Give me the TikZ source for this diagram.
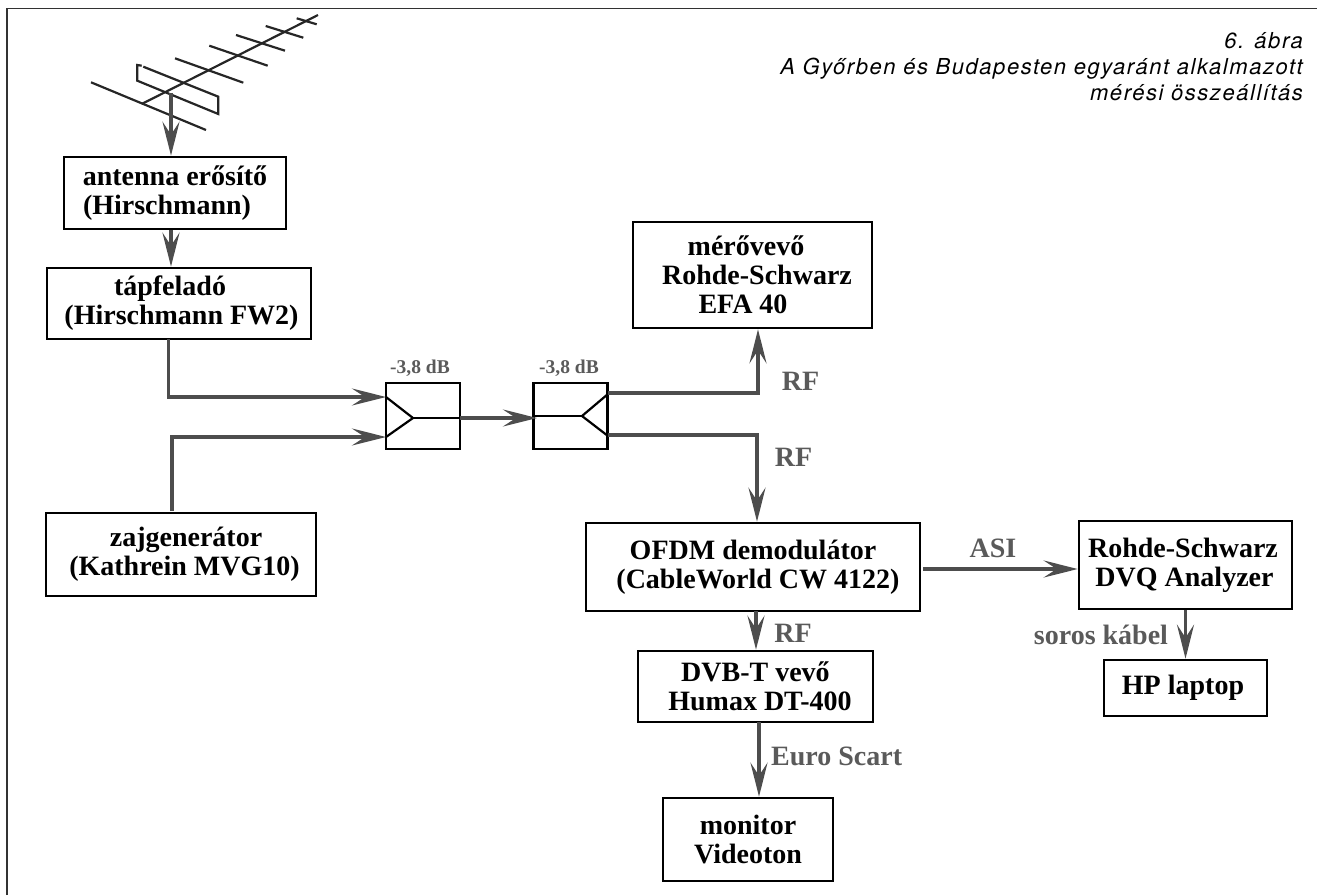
\documentclass[tikz,border=0pt]{standalone}
\usepackage{fontspec}
\setmainfont{Liberation Serif}
\newfontfamily\capfont[LetterSpace=7]{TeX Gyre Heros}
\usepackage{tikz}
\usetikzlibrary{arrows.meta,calc}
\definecolor{wiregrey}{RGB}{77,77,77}
\definecolor{labelgrey}{RGB}{90,90,90}
\definecolor{framegrey}{RGB}{50,50,50}
\tikzset{
  unit/.style={draw=black,line width=2.6pt,fill=white,align=center,inner sep=0pt,
    font=\fontsize{28}{29}\selectfont\bfseries},
  splitbox/.style={draw=black,line width=2.6pt,inner sep=0pt,
    minimum width=74pt,minimum height=66pt},
  flow/.style={-{Stealth[length=34pt,width=17pt,inset=13pt]},line width=3.8pt,draw=wiregrey},
  inner/.style={line width=2.2pt,draw=black},
  aerial/.style={line width=2.2pt,draw=black!85},
  tag/.style={font=\fontsize{28}{29}\selectfont\bfseries,text=labelgrey,inner sep=0pt},
  losstag/.style={font=\fontsize{19.5}{20}\selectfont\bfseries,text=labelgrey,inner sep=0pt}
}
\begin{document}
\begin{tikzpicture}[x=1pt,y=-1pt]
  \useasboundingbox (0,0) rectangle (1317,895);
  \draw[line width=1.6pt,draw=framegrey] (7,895) -- (7,8.5) -- (1317,8.5);

  % aerial
  \coordinate (feed) at (171,93);
  \draw[aerial] (141.7,104) -- (318,15);
  \draw[aerial] (91,82.3) -- (206,130);
  \draw[aerial] (143.3,66.7) -- (218.3,96.7) -- (218.3,114) -- (137.3,80.7) -- (137.3,65) -- (141.7,65.7);
  \foreach \ax/\ay/\bx/\by in {175/58.3/243.3/82.7,209.3/45.7/267.7/65.7,236/35/285/50.7,265.7/26/303.3/37.7,296.7/18.3/316.7/24.3}
    \draw[aerial] (\ax,\ay) -- (\bx,\by);

  % units
  \node[unit,minimum width=222pt,minimum height=72pt] (amp) at (175,193) {antenna erősítő\\(Hirschmann)\hspace*{16pt}};
  \node[unit,minimum width=264pt,minimum height=71pt] (feeder) at (179,303.5) {tápfeladó\hspace*{18pt}\\\hspace*{5pt}(Hirschmann FW2)};
  \node[unit,minimum width=270pt,minimum height=83pt] (noise) at (181,554.5) {\hspace*{10pt}zajgenerátor\\\hspace*{7pt}(Kathrein MVG10)};
  \node[unit,minimum width=239pt,minimum height=106pt] (meter) at (752.5,275) {mérővevő\hspace*{13pt}\\\hspace*{9pt}Rohde-Schwarz\\EFA 40\hspace*{19pt}};
  \node[unit,minimum width=334pt,minimum height=88pt] (ofdm) at (753,567) {OFDM demodulátor\\\hspace*{10pt}(CableWorld CW 4122)};
  \node[unit,minimum width=235pt,minimum height=71pt] (dvbt) at (755.5,686.5) {DVB-T vevő\\\hspace*{9pt}Humax DT-400};
  \node[unit,minimum width=170pt,minimum height=83pt] (monitor) at (748,839.5) {monitor\\Videoton};
  \node[unit,minimum width=213pt,minimum height=88pt] (dvq) at (1185.5,565) {Rohde-Schwarz\hspace*{5pt}\\DVQ Analyzer\hspace*{2pt}};
  \node[unit,minimum width=163pt,minimum height=56pt] (laptop) at (1185.5,688) {HP laptop\hspace*{5pt}};

  % splitters
  \node[splitbox] (split) at (423,416) {};
  \node[splitbox] (merge) at (570.5,416) {};
  \coordinate (inA) at (386,397);
  \coordinate (inB) at (386,437);
  \coordinate (tipA) at (413,418);
  \coordinate (outA) at (460,418);
  \coordinate (inC) at (537,418);
  \coordinate (tipB) at (582,416);
  \coordinate (outB) at (608,394);
  \coordinate (outC) at (608,436);
  \draw[inner] (inA) -- (tipA) -- (inB);
  \draw[inner] (tipA) -- (outA);
  \draw[inner] (outB) -- (tipB) -- (outC);
  \draw[inner] (tipB) -- (merge.west |- tipB);

  % connectors
  \draw[flow] (feed) -- (feed |- amp.north);
  \draw[flow] (amp.south -| feed) -- (feeder.north -| feed);
  \coordinate (feederout) at (168.5,339);
  \coordinate (noiseout) at (172,511);
  \draw[flow] (feederout) |- (inA);
  \draw[flow] (noiseout) |- (inB);
  \draw[flow] (outA) -- (inC);
  \coordinate (upturn) at (758,393);
  \coordinate (downturn) at (757,435);
  \draw[flow] (outB |- upturn) -| (meter.south -| upturn);
  \draw[flow] (outC |- downturn) -| (ofdm.north -| downturn);
  \coordinate (rfdown) at (756,611);
  \coordinate (scart) at (759,722);
  \draw[flow] (rfdown) -- (dvbt.north -| rfdown);
  \draw[flow] (scart) -- (monitor.north -| scart);
  \coordinate (asi) at (923,569);
  \draw[flow] (asi) -- (dvq.west |- asi);
  \draw[flow] (dvq.south) -- (laptop.north);

  % labels
  \node[losstag] (lossA) at (420,368) {-3,8 dB};
  \node[losstag] (lossB) at (569,368) {-3,8 dB};
  \node[tag] (rfA) at (800.5,381) {RF};
  \node[tag] (rfB) at (793.5,457) {RF};
  \node[tag] (rfC) at (793,633) {RF};
  \node[tag] (euro) at (836.7,756) {Euro Scart};
  \node[tag] (asilabel) at (993,548) {ASI};
  \node[tag] (serial) at (1101,635) {soros kábel};
  \node[anchor=north east,align=right,inner sep=0pt,
    font=\capfont\itshape\fontsize{22}{26}\selectfont] (caption) at (1303,32)
    {6. ábra\\A Győrben és Budapesten egyaránt alkalmazott\\mérési összeállítás};
\end{tikzpicture}
\end{document}
